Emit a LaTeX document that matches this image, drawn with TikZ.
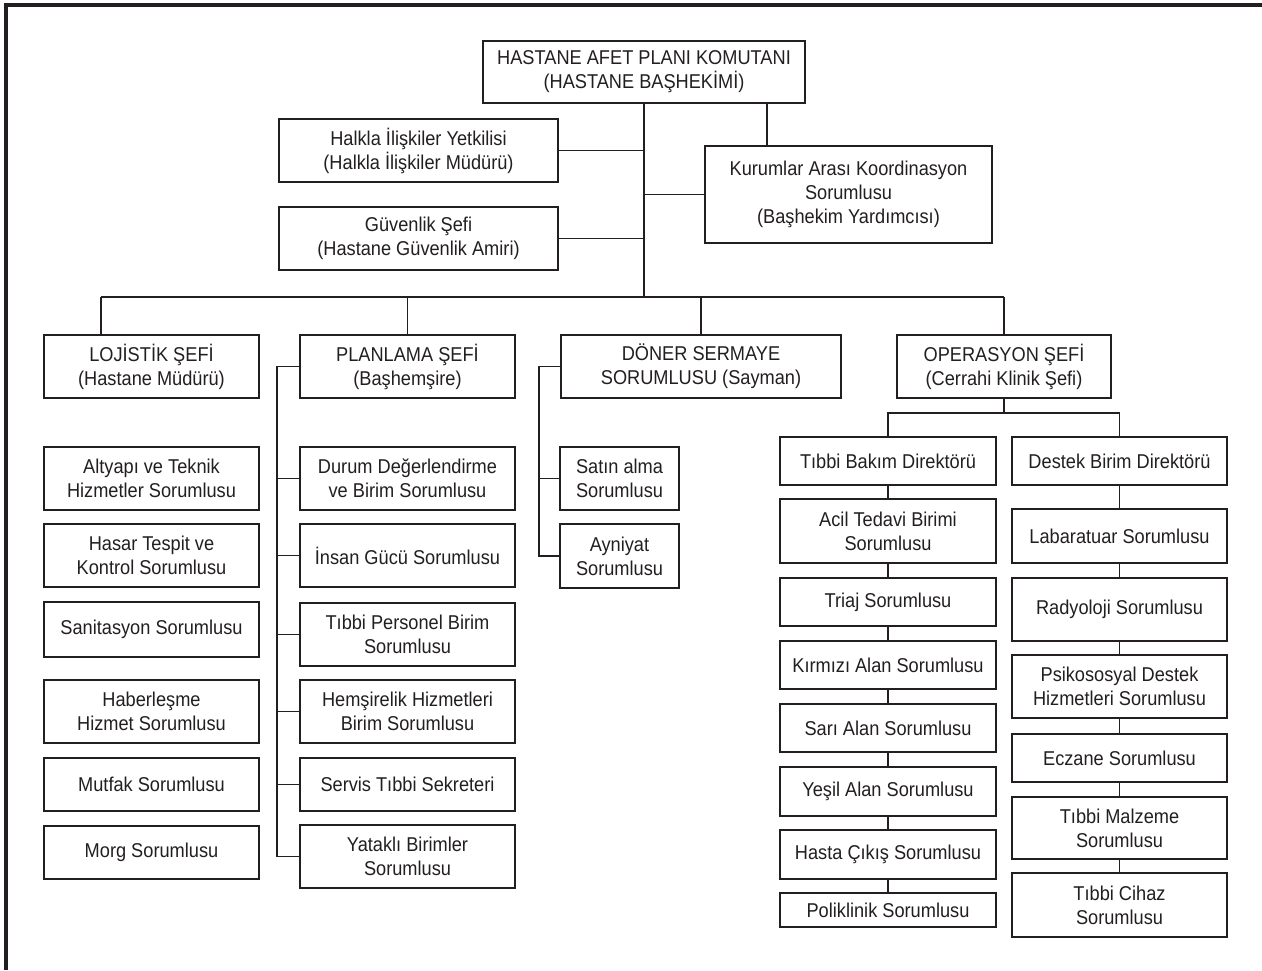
\documentclass[tikz,border=0pt]{standalone}
\usepackage{fontspec}
\setmainfont[FakeStretch=0.91]{Liberation Sans}
\definecolor{ink}{HTML}{231F20}
\newcommand{\bx}[6]{\node[box, minimum width={#4-#2}, minimum height={#5-#3}] (#1) at ({(#2+#4)/2},{(#3+#5)/2}) {#6};}
\begin{document}
\begin{tikzpicture}[x=1pt,y=-1pt,
  box/.style={draw=ink, line width=1.4pt, align=center, inner sep=0pt, text=ink,
    font=\fontsize{20}{24}\selectfont},
  conn/.style={draw=ink, line width=1.4pt},
  frame/.style={draw=ink, line width=3.2pt}]
\useasboundingbox (0,0) rectangle (1262,970);
\fill[white] (0,0) rectangle (1262,970);
\draw[frame] (1262,5) -- (6,5) -- (6,970);

% top level
\bx{top}{483}{41}{805}{103}{HASTANE AFET PLANI KOMUTANI\\(HASTANE BAŞHEKİMİ)}
\bx{halkla}{279}{119}{558}{182}{Halkla İlişkiler Yetkilisi\\(Halkla İlişkiler Müdürü)}
\bx{guvenlik}{279}{207}{558}{270}{Güvenlik Şefi\\(Hastane Güvenlik Amiri)}
\bx{kurumlar}{705}{146}{992}{243}{Kurumlar Arası Koordinasyon\\Sorumlusu\\(Başhekim Yardımcısı)}

% chiefs
\bx{lojistik}{44}{335}{259}{398}{LOJİSTİK ŞEFİ\\(Hastane Müdürü)}
\bx{planlama}{300}{335}{515}{398}{PLANLAMA ŞEFİ\\(Başhemşire)}
\bx{doner}{561}{335}{841}{398}{DÖNER SERMAYE\\SORUMLUSU (Sayman)}
\bx{operasyon}{897}{335}{1111}{398}{OPERASYON ŞEFİ\\(Cerrahi Klinik Şefi)}

% lojistik children
\bx{altyapi}{44}{447}{259}{510}{Altyapı ve Teknik\\Hizmetler Sorumlusu}
\bx{hasar}{44}{524}{259}{587}{Hasar Tespit ve\\Kontrol Sorumlusu}
\bx{sanitasyon}{44}{602}{259}{657}{Sanitasyon Sorumlusu}
\bx{haberlesme}{44}{680}{259}{743}{Haberleşme\\Hizmet Sorumlusu}
\bx{mutfak}{44}{758}{259}{811}{Mutfak Sorumlusu}
\bx{morg}{44}{826}{259}{879}{Morg Sorumlusu}

% planlama children
\bx{durum}{300}{447}{515}{510}{Durum Değerlendirme\\ve Birim Sorumlusu}
\bx{insan}{300}{524}{515}{587}{İnsan Gücü Sorumlusu}
\bx{tibbiper}{300}{603}{515}{666}{Tıbbi Personel Birim\\Sorumlusu}
\bx{hemsire}{300}{680}{515}{743}{Hemşirelik Hizmetleri\\Birim Sorumlusu}
\bx{servis}{300}{758}{515}{811}{Servis Tıbbi Sekreteri}
\bx{yatakli}{300}{825}{515}{888}{Yataklı Birimler\\Sorumlusu}

% doner children
\bx{satin}{560}{447}{679}{510}{Satın alma\\Sorumlusu}
\bx{ayniyat}{560}{524}{679}{588}{Ayniyat\\Sorumlusu}

% operasyon left
\bx{tibbibakim}{780}{437}{996}{485}{Tıbbi Bakım Direktörü}
\bx{acil}{780}{499}{996}{563}{Acil Tedavi Birimi\\Sorumlusu}
\bx{triaj}{780}{578}{996}{626}{Triaj Sorumlusu}
\bx{kirmizi}{780}{641}{996}{689}{Kırmızı Alan Sorumlusu}
\bx{sari}{780}{704}{996}{752}{Sarı Alan Sorumlusu}
\bx{yesil}{780}{767}{996}{816}{Yeşil Alan Sorumlusu}
\bx{cikis}{780}{830}{996}{879}{Hasta Çıkış Sorumlusu}
\bx{poliklinik}{780}{893}{996}{927}{Poliklinik Sorumlusu}

% operasyon right
\bx{destek}{1012}{437}{1227}{485}{Destek Birim Direktörü}
\bx{lab}{1012}{509}{1227}{563}{Labaratuar Sorumlusu}
\bx{radyoloji}{1012}{578}{1227}{641}{Radyoloji Sorumlusu}
\bx{psiko}{1012}{655}{1227}{718}{Psikososyal Destek\\Hizmetleri Sorumlusu}
\bx{eczane}{1012}{734}{1227}{782}{Eczane Sorumlusu}
\bx{malzeme}{1012}{797}{1227}{859}{Tıbbi Malzeme\\Sorumlusu}
\bx{cihaz}{1012}{873}{1227}{937}{Tıbbi Cihaz\\Sorumlusu}

% connectors
\coordinate (bus) at (644,297);
\coordinate (busL) at (101,297);
\coordinate (busR) at (1004,297);
\coordinate (kv) at (767,103);
\coordinate (pl) at (277,367);
\coordinate (dl) at (539,367);
\coordinate (opbus) at (1004,413);

\draw[conn] (top.south) -- (bus);
\draw[conn] (busL) -- (busR);
\draw[conn] (halkla.east) -- (halkla.east -| bus);
\draw[conn] (guvenlik.east) -- (guvenlik.east -| bus);
\draw[conn] (kurumlar.west) -- (kurumlar.west -| bus);
\draw[conn] (kv) -- (kv |- kurumlar.north);
\draw[conn] (busL) -- (busL |- lojistik.north);
\draw[conn] (planlama.north) -- (planlama.north |- bus);
\draw[conn] (doner.north) -- (doner.north |- bus);
\draw[conn] (operasyon.north) -- (operasyon.north |- bus);

\draw[conn] (planlama.west) -| (pl |- yatakli.west) -- (yatakli.west);
\foreach \n in {durum,insan,tibbiper,hemsire,servis}
  \draw[conn] (\n.west) -- (\n.west -| pl);

\draw[conn] (doner.west) -| (dl |- ayniyat.west) -- (ayniyat.west);
\draw[conn] (satin.west) -- (satin.west -| dl);

\draw[conn] (operasyon.south) -- (opbus);
\draw[conn] (tibbibakim.north) |- (opbus) -| (destek.north);

\foreach \a/\b in {tibbibakim/acil,acil/triaj,triaj/kirmizi,kirmizi/sari,sari/yesil,yesil/cikis,cikis/poliklinik,
  destek/lab,lab/radyoloji,radyoloji/psiko,psiko/eczane,eczane/malzeme,malzeme/cihaz}
  \draw[conn] (\a.south) -- (\b.north);
\end{tikzpicture}
\end{document}
